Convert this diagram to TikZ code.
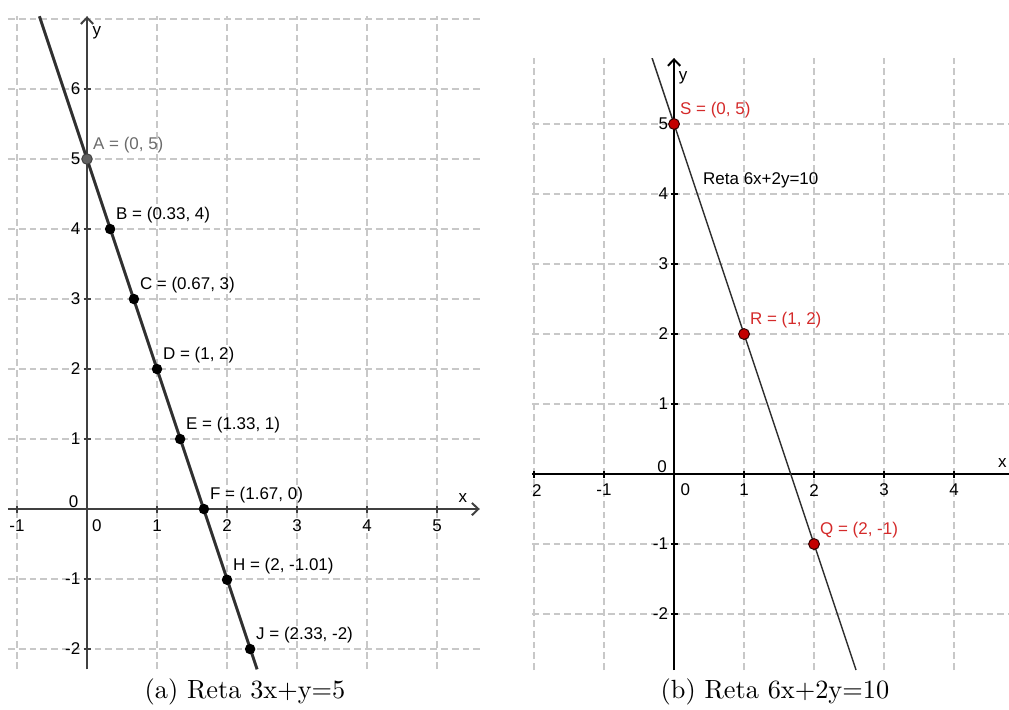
\documentclass[tikz,border=0pt]{standalone}
\usepackage{fontspec}
\newfontfamily\ggbfont{Liberation Sans}
\usetikzlibrary{arrows.meta}
\definecolor{gradecinza}{HTML}{C8C8C8}
\definecolor{eixocinza}{HTML}{404040}
\definecolor{retacinza}{HTML}{303030}
\definecolor{pontovermelho}{HTML}{C40000}
\definecolor{textovermelho}{HTML}{D42A2A}
\tikzset{
  grade/.style={gradecinza, line width=0.45pt, dash pattern=on 2.8pt off 1.6pt},
  eixo/.style={line width=0.8pt},
  seta/.style={-{Straight Barb[length=2.6pt, width=5pt]}},
  num/.style={font=\ggbfont\fontsize{6.9}{8}\selectfont, inner sep=0pt},
  ponto/.style={circle, fill=black, inner sep=0pt, minimum size=1.5mm},
  pontoB/.style={circle, fill=pontovermelho, draw=black!80!red, line width=0.4pt, inner sep=0pt, minimum size=1.55mm},
  legenda/.style={font=\fontsize{10.7}{13}\selectfont, inner sep=0pt}
}
\begin{document}
\begin{tikzpicture}
\useasboundingbox (0,0) rectangle (14.414,10.129);
% grafico (a)
\begin{scope}[shift={(1.243,2.857)}]
  \foreach \x in {-1,...,5} \draw[grade] (\x,-2.29) -- (\x,7.04);
  \foreach \y in {-2,...,7} \draw[grade] (-1.13,\y) -- (5.61,\y);
  \draw[eixo, eixocinza, seta] (-1.13,0) -- (5.61,0);
  \draw[eixo, eixocinza, seta] (0,-2.29) -- (0,7.04);
  \foreach \x in {-1,1,2,3,4,5} {
    \draw[eixocinza, line width=0.5pt] (\x,-0.05) -- (\x,0.05);
    \node[num] (xa\x) at (\x,-0.24) {\x};
  }
  \foreach \y in {-2,-1,1,2,3,4,5,6} {
    \draw[eixocinza, line width=0.5pt] (-0.05,\y) -- (0.05,\y);
    \node[num, anchor=east] (ya\y) at (-0.09,\y) {\y};
  }
  \node[num] (oxa) at (0.14,-0.24) {0};
  \node[num] (oya) at (-0.19,0.1) {0};
  \node[num] (xA) at (5.37,0.16) {x};
  \node[num] (yA) at (0.14,6.81) {y};
  \draw[retacinza, line width=1.2pt] (-0.68,7.04) -- (2.43,-2.29);
  \node[ponto, fill=black!62, draw=black!75, line width=0.4pt] (A) at (0,5) {};
  \node[num, anchor=west, black!58] (lA) at (0.08,5.2) {A = (0, 5)};
  \foreach \n/\x/\y/\t in {B/0.33/4/{(0.33, 4)}, C/0.67/3/{(0.67, 3)}, D/1/2/{(1, 2)},
      E/1.33/1/{(1.33, 1)}, F/1.67/0/{(1.67, 0)}, H/2/-1.01/{(2, -1.01)}, J/2.33/-2/{(2.33, -2)}} {
    \node[ponto] (\n) at (\x,\y) {};
    \node[num, anchor=west] (l\n) at (\x+0.08,\y+0.2) {\n\ = \t};
  }
\end{scope}
\node[legenda] (capA) at (3.5,0.243) {(a) Reta 3x+y=5};
% grafico (b)
\begin{scope}[shift={(9.629,3.357)}]
  \clip (-2.03,-2.8) rectangle (4.786,5.943);
  \foreach \x in {-2,...,4} \draw[grade] (\x,-2.8) -- (\x,5.943);
  \foreach \y in {-2,...,5} \draw[grade] (-2.03,\y) -- (4.786,\y);
  \draw[eixo] (-2.03,0) -- (4.786,0);
  \draw[eixo, seta] (0,-2.8) -- (0,5.943);
  \foreach \x in {-2,-1,1,2,3,4} {
    \draw[line width=0.5pt] (\x,-0.05) -- (\x,0.05);
    \node[num] (xb\x) at (\x,-0.23) {\x};
  }
  \foreach \y in {-2,-1,1,2,3,4,5} {
    \draw[line width=0.5pt] (-0.05,\y) -- (0.05,\y);
    \node[num, anchor=east] (yb\y) at (-0.08,\y) {\y};
  }
  \node[num] (oxb) at (0.16,-0.23) {0};
  \node[num] (oyb) at (-0.17,0.11) {0};
  \node[num] (xB) at (4.69,0.16) {x};
  \node[num] (yB) at (0.13,5.66) {y};
  \draw[retacinza, line width=0.6pt] (-0.314,5.943) -- (2.6,-2.8);
  \node[num, anchor=west] (reta) at (0.41,4.2) {Reta 6x+2y=10};
  \foreach \n/\x/\y/\t in {S/0/5/{(0, 5)}, R/1/2/{(1, 2)}, Q/2/-1/{(2, -1)}} {
    \node[pontoB] (\n) at (\x,\y) {};
    \node[num, anchor=west, textovermelho] (l\n) at (\x+0.08,\y+0.2) {\n\ = \t};
  }
\end{scope}
\node[legenda] (capB) at (11.07,0.243) {(b) Reta 6x+2y=10};
\end{tikzpicture}
\end{document}
